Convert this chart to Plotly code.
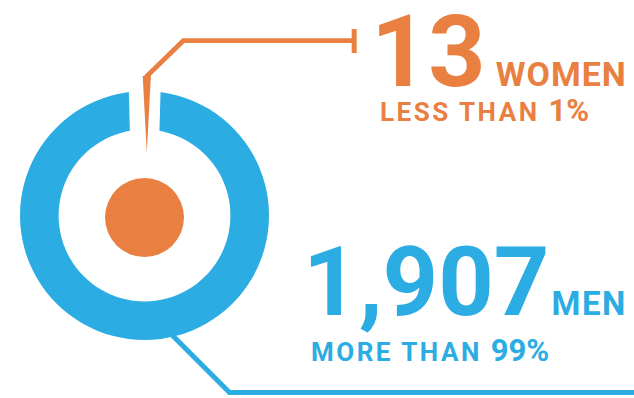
import plotly.graph_objects as go

# ---- data ----
categories = ["Women", "Men"]
counts = [13, 1907]
unit_labels = ["WOMEN", "MEN"]
share_prefix = ["LESS THAN", "MORE THAN"]
share_labels = ["1%", "99%"]

ORANGE = "#E98041"
BLUE = "#2BACE2"
colors = [ORANGE, BLUE]

W, H = 634, 398
FONT = "Roboto"


def px(x):
    return x / W


def py(y):
    return 1 - y / H


fig = go.Figure()

# donut ring (women slice centred at 12 o'clock)
total = sum(counts)
fig.add_trace(go.Pie(
    labels=categories,
    values=counts,
    marker=dict(colors=colors, line=dict(width=0)),
    hole=0.69,
    sort=False,
    direction="clockwise",
    rotation=-360 * counts[0] / total / 2,
    textinfo="none",
    hoverinfo="label+value",
    showlegend=False,
    domain=dict(x=[px(20), px(269)], y=[py(340), py(91)]),
))


def path(points, close=False):
    s = "M " + " L ".join(f"{px(x):.5f},{py(y):.5f}" for x, y in points)
    return s + (" Z" if close else "")


shapes = []
# white gap in the ring
shapes.append(dict(type="path", xref="paper", yref="paper",
                   path=path([(128.7, 86), (160.7, 86), (159.3, 136), (130, 136)], True),
                   fillcolor="white", line=dict(width=0), layer="above"))
# orange spike
shapes.append(dict(type="path", xref="paper", yref="paper",
                   path=path([(142.7, 76), (151.0, 74.5), (146.8, 152.5)], True),
                   fillcolor=ORANGE, line=dict(width=0), layer="above"))
# orange leader
shapes.append(dict(type="path", xref="paper", yref="paper",
                   path=path([(146.0, 77.0), (183.3, 40.7), (354.2, 40.7)]),
                   line=dict(color=ORANGE, width=4.7), layer="above"))
shapes.append(dict(type="line", xref="paper", yref="paper",
                   x0=px(354.2), x1=px(354.2), y0=py(29), y1=py(53),
                   line=dict(color=ORANGE, width=5), layer="above"))
# blue leader
shapes.append(dict(type="path", xref="paper", yref="paper",
                   path=path([(160, 323), (229.5, 392.5), (640, 392.5)]),
                   line=dict(color=BLUE, width=5), layer="above"))
# orange centre dot
shapes.append(dict(type="circle", xref="paper", yref="paper",
                   x0=px(105), x1=px(184), y0=py(257), y1=py(178),
                   fillcolor=ORANGE, line=dict(width=0), layer="above"))

annotations = []


def ann(x, ybottom, text, size, color):
    annotations.append(dict(
        x=px(x), y=py(ybottom), xref="paper", yref="paper",
        xanchor="left", yanchor="bottom", showarrow=False,
        borderpad=0, borderwidth=0, align="left",
        text=text, font=dict(family=FONT, size=size, color=color, weight="bold"),
    ))


ann(371, 110.4,
    f"<span style='font-size:100px'>{counts[0]:,}</span><span style='font-size:40px'> </span>"
    f"<span style='letter-spacing:1px'>{unit_labels[0]}</span>",
    34, ORANGE)
ann(380, 129.3,
    f"<span style='letter-spacing:2.5px'>{share_prefix[0]} </span><span style='font-size:31px'>{share_labels[0]}</span>",
    26, ORANGE)
ann(303, 338.5,
    f"<span style='font-size:97px'>{counts[1]:,}</span><span style='font-size:8px'> </span>"
    f"<span style='letter-spacing:1.5px'>{unit_labels[1]}</span>",
    33, BLUE)
ann(311, 368.6,
    f"<span style='letter-spacing:2.5px'>{share_prefix[1]} </span><span style='font-size:31px'>{share_labels[1]}</span>",
    26, BLUE)

fig.update_layout(
    width=W, height=H,
    margin=dict(l=0, r=0, t=0, b=0),
    paper_bgcolor="white", plot_bgcolor="white",
    shapes=shapes, annotations=annotations,
    xaxis=dict(visible=False), yaxis=dict(visible=False),
)

fig.write_html("out.html", config={"displayModeBar": False},
               post_script="document.body.style.margin='0';document.body.style.padding='0';")
